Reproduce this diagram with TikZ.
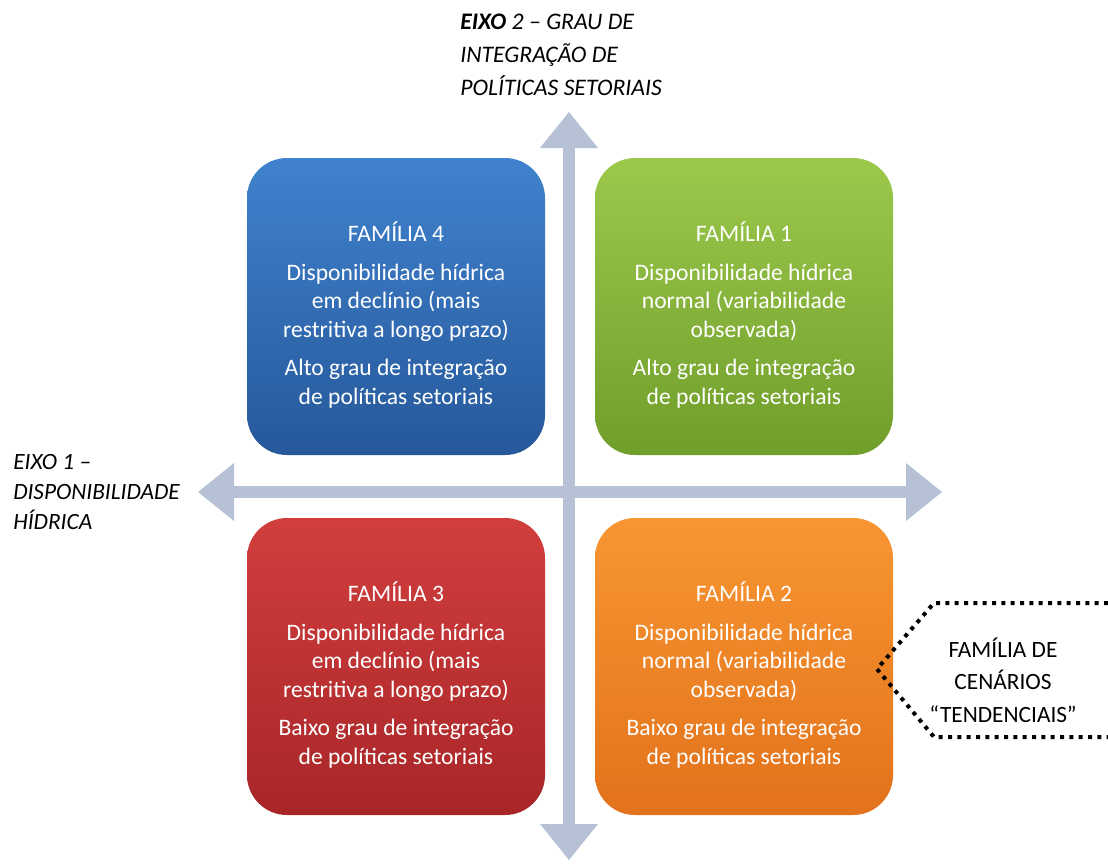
\documentclass[tikz,border=0pt]{standalone}
\usepackage{fontspec}
\setmainfont{Carlito}
\usetikzlibrary{arrows.meta}
\definecolor{cinzaeixo}{RGB}{182,193,214}
\definecolor{azulA}{RGB}{64,130,206}
\definecolor{azulB}{RGB}{38,88,154}
\definecolor{verdeA}{RGB}{156,200,76}
\definecolor{verdeB}{RGB}{112,158,42}
\definecolor{vermA}{RGB}{210,62,62}
\definecolor{vermB}{RGB}{168,38,40}
\definecolor{laranjaA}{RGB}{248,150,50}
\definecolor{laranjaB}{RGB}{226,114,28}
\begin{document}
\begin{tikzpicture}[x=0.75pt,y=-0.75pt,
    familia/.style={rounded corners=30pt,minimum width=223.5pt,minimum height=222.75pt},
    texto/.style={text=white,align=center,font=\fontsize{17.7}{21.5}\selectfont},
    eixo/.style={line width=9pt,cinzaeixo,{Triangle[width=43.5pt,length=27pt,line width=0pt]}-{Triangle[width=43.5pt,length=27pt,line width=0pt]}},
    rotulo/.style={align=left,anchor=west,inner sep=0pt,font=\fontsize{17.8}{24.75}\selectfont\itshape},
    pontilhado/.style={line width=3pt,dash pattern=on 3pt off 4pt}]
  \useasboundingbox (0,0) rectangle (1108,868);
  % eixos
  \draw[eixo] (198,492) -- (942,492);
  \draw[eixo] (569,112) -- (569,860);
  % familias de cenarios
  \node[familia,top color=azulA,bottom color=azulB] (fam4) at (396,306.5) {};
  \node[familia,top color=verdeA,bottom color=verdeB] (fam1) at (744,306.5) {};
  \node[familia,top color=vermA,bottom color=vermB] (fam3) at (396,666.5) {};
  \node[familia,top color=laranjaA,bottom color=laranjaB] (fam2) at (744,666.5) {};
  \node[texto] (txt4) at ([yshift=-6.4pt]fam4.center)
    {FAMÍLIA 4\\[7.5pt] Disponibilidade hídrica\\ em declínio (mais\\ restritiva a longo prazo)\\[7pt] Alto grau de integração\\ de políticas setoriais};
  \node[texto] (txt1) at ([yshift=-6.4pt]fam1.center)
    {FAMÍLIA 1\\[7.5pt] Disponibilidade hídrica\\ normal (variabilidade\\ observada)\\[7pt] Alto grau de integração\\ de políticas setoriais};
  \node[texto] (txt3) at ([yshift=-6.4pt]fam3.center)
    {FAMÍLIA 3\\[7.5pt] Disponibilidade hídrica\\ em declínio (mais\\ restritiva a longo prazo)\\[7pt] Baixo grau de integração\\ de políticas setoriais};
  \node[texto] (txt2) at ([yshift=-6.4pt]fam2.center)
    {FAMÍLIA 2\\[7.5pt] Disponibilidade hídrica\\ normal (variabilidade\\ observada)\\[7pt] Baixo grau de integração\\ de políticas setoriais};
  % rotulos dos eixos
  \node[rotulo] (eixo2) at (460,55) {\textbf{EIXO} 2 -- GRAU DE\\ INTEGRAÇÃO DE\\ POLÍTICAS SETORIAIS};
  \node[rotulo,font=\fontsize{17.5}{22.5}\selectfont\itshape] (eixo1) at (13,492) {EIXO 1 --\\ DISPONIBILIDADE\\ HÍDRICA};
  % cenarios tendenciais
  \draw[pontilhado] (1108,603) -- (934,603) -- (877,669) -- (934,737) -- (1108,737);
  \node[align=center,font=\fontsize{17.5}{24.5}\selectfont] (tend) at (1003,680)
    {FAMÍLIA DE\\ CENÁRIOS\\ “TENDENCIAIS”};
\end{tikzpicture}
\end{document}
